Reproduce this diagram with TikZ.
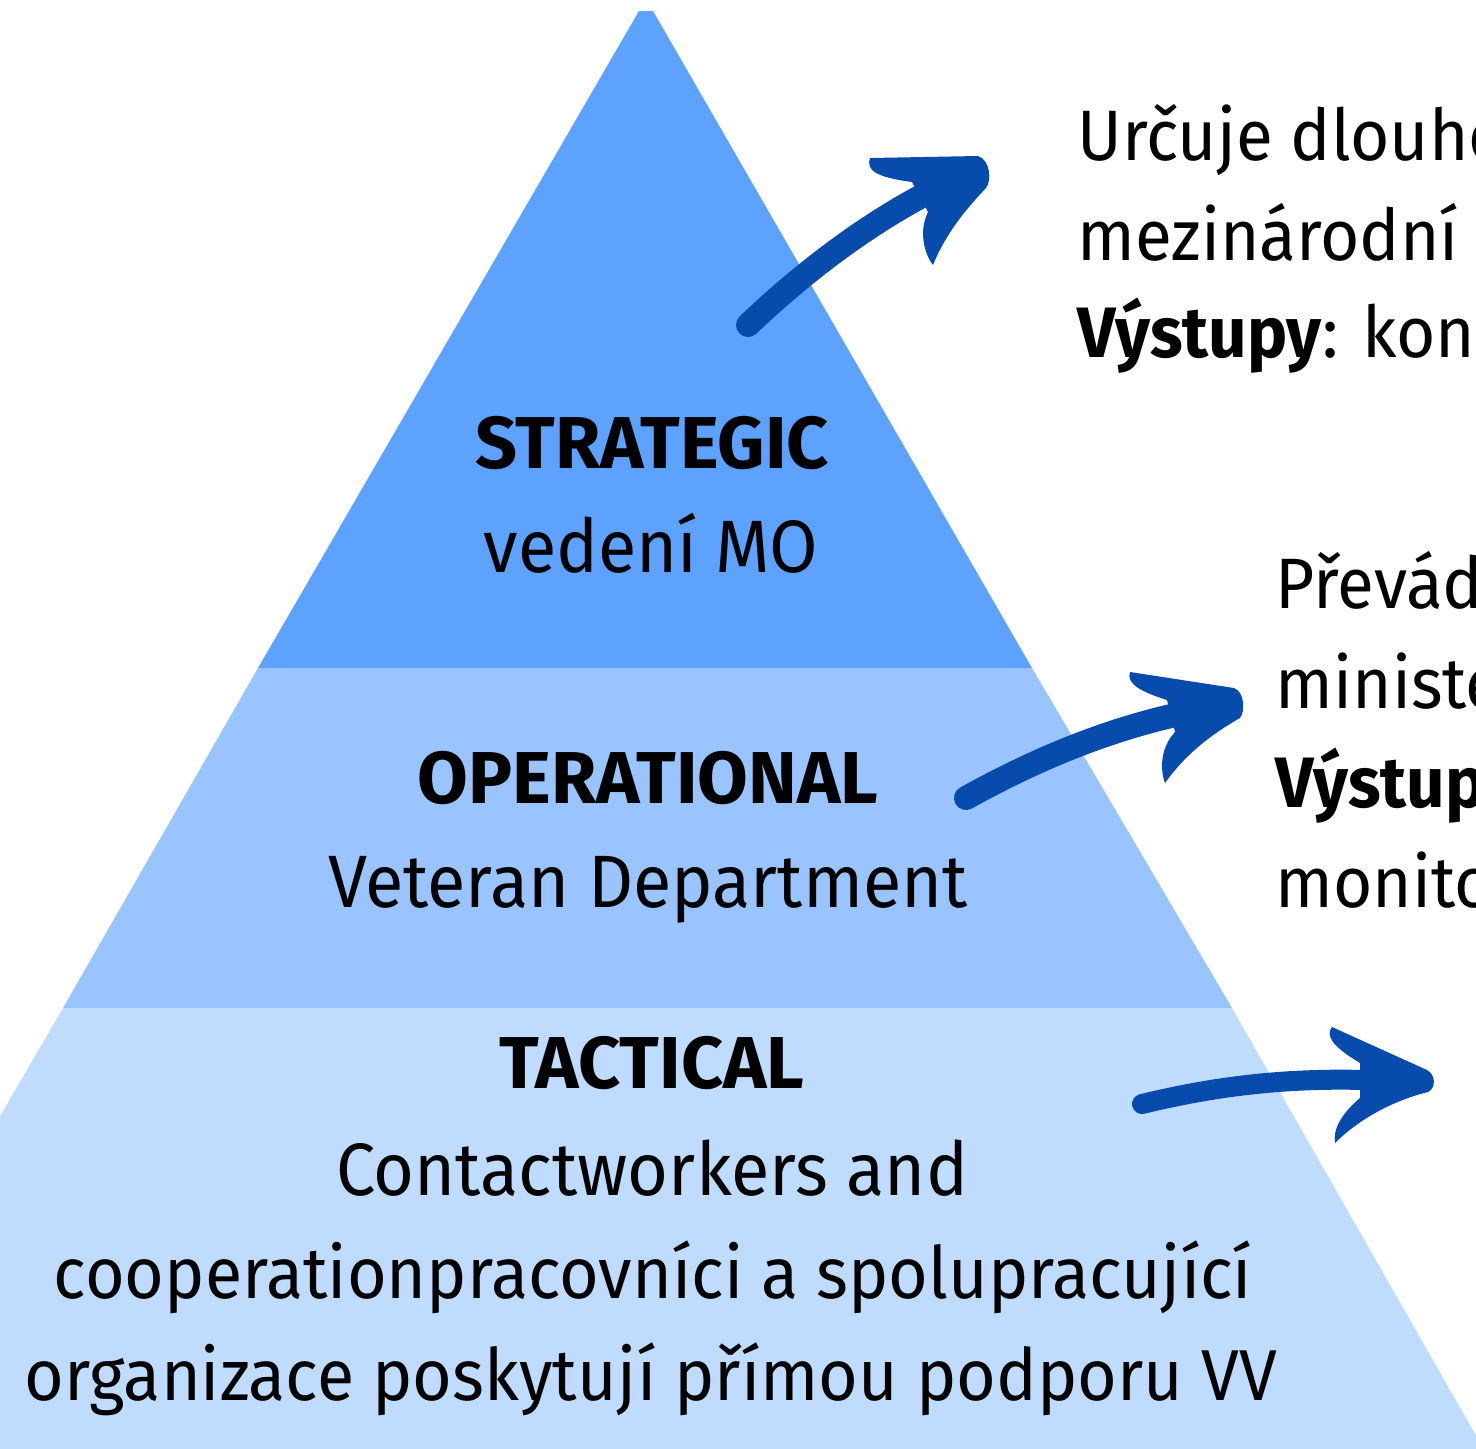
\documentclass[tikz,border=0pt]{standalone}
\usepackage{fontspec}
\setmainfont{Fira Sans}[FakeStretch=0.945]
\newfontfamily\headfont{Fira Sans}
\usepackage{tikz}
\definecolor{stratblue}{RGB}{93,162,255}
\definecolor{operblue}{RGB}{153,196,255}
\definecolor{tactblue}{RGB}{191,220,255}
\definecolor{arrowblue}{RGB}{7,76,173}

\begin{document}
\begin{tikzpicture}[x=0.01cm, y=-0.01cm,
  levelname/.style={inner sep=0pt, anchor=base, font=\headfont\fontsize{20.9}{24}\selectfont\bfseries},
  levelsub/.style={inner sep=0pt, anchor=base, font=\fontsize{21.1}{25}\selectfont},
  sidetext/.style={inner sep=0pt, anchor=base west, font=\fontsize{20.3}{25}\selectfont},
  brush/.style={arrowblue, line width=0.24cm, line cap=round}]

  \useasboundingbox (0,0) rectangle (1476,1448);
  \clip (0,0) rectangle (1476,1448);
  \fill[white] (0,0) rectangle (1476,1448);

  % Pyramid levels
  \fill[stratblue] (639,11) -- (653,11) -- (1032,668) -- (258,668) -- cycle;
  \fill[operblue] (258,668) -- (1032,668) -- (1232,1008) -- (63,1008) -- cycle;
  \fill[tactblue] (63,1008) -- (1232,1008) -- (1490,1460) -- (-200,1460) -- cycle;

  % Level labels
  \node[levelname] (strat) at (652,468) {STRATEGIC};
  \node[levelsub] (stratsub) at (651,572) {vedení MO};
  \node[levelname] (oper) at (648,803) {OPERATIONAL};
  \node[levelsub] (opersub) at (648,907) {Veteran Department};
  \node[levelname] (tact) at (652,1088) {TACTICAL};
  \node[levelsub] (tactsubA) at (652,1195) {Contactworkers and};
  \node[levelsub, font=\fontsize{20.5}{25}\selectfont] (tactsubB) at (653,1298) {cooperationpracovníci a spolupracující};
  \node[levelsub, font=\fontsize{20.5}{25}\selectfont] (tactsubC) at (651,1400) {organizace poskytují přímou podporu VV};

  % Side descriptions
  \node[sidetext] (stratdescA) at (1077,160) {Určuje dlouhod};
  \node[sidetext] (stratdescB) at (1077,260) {mezinárodní s};
  \node[sidetext] (stratdescC) at (1077,357) {\textbf{Výstupy}: konc};
  \node[sidetext] (operdescA) at (1275,608) {Převád};
  \node[sidetext] (operdescB) at (1275,708) {ministe};
  \node[sidetext] (operdescC) at (1275,807) {\textbf{Výstup}};
  \node[sidetext] (operdescD) at (1275,907) {monito};

  % Arrow strategic
  \draw[brush] (748,325) .. controls (790,285) and (850,235) .. (920,197);
  \fill[arrowblue] (870,158) .. controls (866,170) and (875,177) .. (912,182) -- (928,212)
    .. controls (918,232) and (925,255) .. (933,265) .. controls (945,235) and (965,210) .. (986,188)
    .. controls (992,180) and (990,160) .. (978,156) -- cycle;

  % Arrow operational
  \draw[brush] (966,798) .. controls (1020,768) and (1090,735) .. (1171,716);
  \fill[arrowblue] (1130,672) .. controls (1127,682) and (1135,690) .. (1167,700) -- (1175,732)
    .. controls (1160,748) and (1160,770) .. (1165,783) .. controls (1185,755) and (1210,735) .. (1240,718)
    .. controls (1245,712) and (1245,692) .. (1234,688) -- cycle;

  % Arrow tactical
  \draw[brush, line width=0.2cm] (1142,1104) .. controls (1220,1085) and (1290,1078) .. (1365,1080);
  \fill[arrowblue] (1332,1027) .. controls (1326,1035) and (1330,1045) .. (1360,1063) -- (1360,1098)
    .. controls (1340,1115) and (1333,1130) .. (1335,1143) .. controls (1360,1118) and (1395,1100) .. (1428,1092)
    .. controls (1436,1088) and (1436,1075) .. (1427,1070) -- cycle;

\end{tikzpicture}
\end{document}
